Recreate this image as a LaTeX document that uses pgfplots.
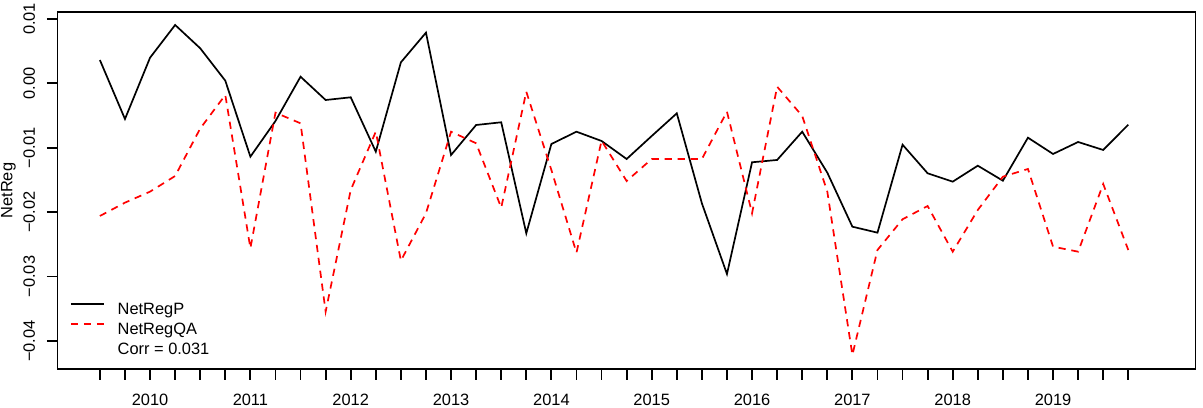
\documentclass[border=0pt]{standalone}
\usepackage{fontspec}
\setmainfont{Liberation Sans}
\usepackage{pgfplots}
\pgfplotsset{compat=1.18}
\begin{document}
\fontsize{8.2pt}{9.8pt}\selectfont
\begin{tikzpicture}
\useasboundingbox (0,0) rectangle (601.5pt,203.5pt);
\begin{axis}[
  at={(28.75pt,19pt)}, anchor=south west,
  scale only axis, width=569pt, height=178.35pt,
  xmin=-1.69, xmax=43.68, ymin=-0.04435, ymax=0.01104,
  axis line style={line width=0.9pt},
  tick style={line width=0.9pt, black},
  major tick length=5.25pt, tick align=outside,
  xtick pos=bottom, ytick pos=left,
  xtick={0,...,41},
  xticklabels={,,2010,,,,2011,,,,2012,,,,2013,,,,2014,,,,2015,,,,2016,,,,2017,,,,2018,,,,2019,,,},
  ytick={-0.04,-0.03,-0.02,-0.01,0,0.01},
  yticklabels={−0.04,−0.03,−0.02,−0.01,0.00,0.01},
  scaled y ticks=false,
  xticklabel style={anchor=base, inner sep=0pt},
  xticklabel shift=12.75pt,
  yticklabel style={rotate=90, anchor=base, inner sep=0pt},
  yticklabel shift=6pt,
  ylabel={NetReg},
  ylabel style={at={(axis description cs:-0.0431,0.5)}, anchor=center, inner sep=0pt},
  legend style={draw=none, fill=none, at={(0.011,0.1873)}, anchor=north west,
    inner sep=0pt, outer sep=0pt, row sep=2.2pt, column sep=6.5pt,
    nodes={inner sep=0pt, text height=6pt, text depth=1.8pt}},
  legend cell align=left,
  legend image code/.code={\draw[#1] (0pt,2.95pt) -- (16.5pt,2.95pt);},
]
\addplot[color=black, draw=black, line width=0.85pt] coordinates {
(0,0.00363) (1,-0.00553) (2,0.00399) (3,0.00907) (4,0.00545) (5,0.00042)
(6,-0.01138) (7,-0.00584) (8,0.00104) (9,-0.00258) (10,-0.00216) (11,-0.0106)
(12,0.00327) (13,0.00788) (14,-0.01112) (15,-0.00646) (16,-0.00604) (17,-0.02328)
(18,-0.00941) (19,-0.0075) (20,-0.00894) (21,-0.01174) (22,-0.00817) (23,-0.00465)
(24,-0.01862) (25,-0.0296) (26,-0.01225) (27,-0.01189) (28,-0.0075) (29,-0.01386)
(30,-0.02225) (31,-0.02318) (32,-0.00952) (33,-0.01396) (34,-0.01526) (35,-0.01278)
(36,-0.01511) (37,-0.00843) (38,-0.01096) (39,-0.0091) (40,-0.01034) (41,-0.00641)
};
\addlegendentry{NetRegP}
\addplot[color=red, draw=red, line width=0.85pt, dash pattern=on 3.6pt off 2.9pt] coordinates {
(0,-0.02059) (1,-0.01852) (2,-0.01681) (3,-0.01438) (4,-0.0070) (5,-0.0018)
(6,-0.0256) (7,-0.00455) (8,-0.0062) (9,-0.03545) (10,-0.01655) (11,-0.0075)
(12,-0.02753) (13,-0.02017) (14,-0.0075) (15,-0.0093) (16,-0.0193) (17,-0.00129)
(18,-0.01345) (19,-0.02629) (20,-0.0089) (21,-0.01516) (22,-0.01174) (23,-0.01174)
(24,-0.01174) (25,-0.00439) (26,-0.02017) (27,-0.00051) (28,-0.00506) (29,-0.0168)
(30,-0.04217) (31,-0.02587) (32,-0.0211) (33,-0.01904) (34,-0.02613) (35,-0.01966)
(36,-0.01449) (37,-0.01329) (38,-0.02535) (39,-0.02613) (40,-0.01562) (41,-0.02587)
};
\addlegendentry{NetRegQA}
\addlegendimage{empty legend}
\addlegendentry{Corr = 0.031}
\end{axis}
\end{tikzpicture}
\end{document}
